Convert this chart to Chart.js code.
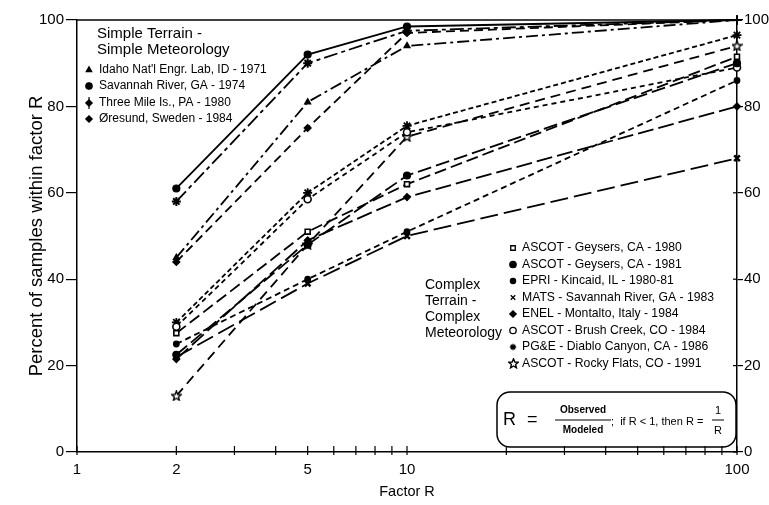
<!DOCTYPE html>
<html>
<head>
<meta charset="utf-8">
<script src="https://cdn.jsdelivr.net/npm/chart.js@4/dist/chart.umd.min.js"></script>
<style>
html,body{margin:0;padding:0;background:#fff;}
#wrap{width:769px;height:505px;}
</style>
</head>
<body>
<div id="wrap"><canvas id="c" width="769" height="505"></canvas></div>
<script>
// ---- data ----
const factorR = [2, 5, 10, 100];
const xTickValues = [1,2,3,4,5,6,7,8,9,10,20,30,40,50,60,70,80,90,100];
const xTickLabels = [1, 2, 5, 10, 100];
const yTickValues = [0, 20, 40, 60, 80, 100];

const simpleNames = ["Idaho Nat'l Engr. Lab, ID - 1971","Savannah River, GA - 1974","Three Mile Is., PA - 1980","Øresund, Sweden - 1984"];
const idaho     = [45, 81, 94, 100];
const savannah  = [61, 92, 98.5, 100];
const threeMile = [44, 75, 97, 100];
const oresund   = [58, 90, 97.5, 100];

const complexNames = ["ASCOT - Geysers, CA - 1980","ASCOT - Geysers, CA - 1981","EPRI - Kincaid, IL - 1980-81","MATS - Savannah River, GA - 1983","ENEL - Montalto, Italy - 1984","ASCOT - Brush Creek, CO - 1984","PG&E - Diablo Canyon, CA - 1986","ASCOT - Rocky Flats, CO - 1991"];
const geysers80   = [27.5, 51, 62, 91.5];
const geysers81   = [22.5, 48, 64, 90];
const epri        = [25, 40, 51, 86];
const mats        = [22, 39, 50, 68];
const enel        = [21.5, 49, 59, 80];
const brushCreek  = [29, 58.5, 74, 89];
const pge         = [30, 60, 75.5, 96.5];
const rockyFlats  = [13, 48, 73, 94];

// ---- marker: outline star ----
function makeStar(){
  const c = document.createElement('canvas'); c.width = 11; c.height = 11;
  const g = c.getContext('2d');
  g.beginPath();
  for(let i=0;i<10;i++){
    const r = i%2===0 ? 5 : 2.2;
    const a = -Math.PI/2 + i*Math.PI/5;
    const px = 5.5 + r*Math.cos(a), py = 5.8 + r*Math.sin(a);
    if(i===0) g.moveTo(px,py); else g.lineTo(px,py);
  }
  g.closePath(); g.fillStyle='#fff'; g.fill(); g.lineWidth=1.4; g.strokeStyle='#000'; g.stroke();
  return c;
}
const starImg = makeStar();

function pts(vals){ return factorR.map((x,i)=>({x:x, y:vals[i]})); }
function ds(label, vals, style, dash, opts){
  return Object.assign({
    label: label, data: pts(vals), borderColor:'#000', backgroundColor:'#000',
    borderWidth: 1.8, borderDash: dash, pointStyle: style, pointRadius: 3.5,
    pointBorderColor:'#000', pointBackgroundColor:'#000', pointBorderWidth:1.2,
    tension: 0, yAxisID:'y', clip: 12
  }, opts||{});
}
function withCross(s){ return [s, s, s, 'cross']; }

const styleSimple = ['triangle','circle','rectRot','rectRot'];
const styleComplex = ['rect','circle','circle','crossRot','rectRot','circle','star',starImg];

const datasets = [
  ds(simpleNames[0], idaho, withCross('triangle'), [12,4,3,4], {pointBorderWidth:[1.2,1.2,1.2,1.8], pointRadius:[3.5,3.5,3.5,4.5]}),
  ds(simpleNames[1], savannah, withCross('circle'), [], {pointBorderWidth:[1.2,1.2,1.2,1.8], pointRadius:[3.5,3.5,3.5,4.5]}),
  ds(simpleNames[2], threeMile, withCross('rectRot'), [9,5], {pointBorderWidth:[1.2,1.2,1.2,1.8], pointRadius:[3.5,3.5,3.5,4.5]}),
  ds(simpleNames[3], oresund, withCross('star'), [14,4,4,4], {pointRadius:4.5, pointBorderWidth:2}),
  ds(complexNames[0], geysers80, 'rect', [12,5], {pointBackgroundColor:'#fff', pointBorderWidth:1.6}),
  ds(complexNames[1], geysers81, 'circle', [14,5]),
  ds(complexNames[2], epri, 'circle', [6,4], {pointRadius:2.8}),
  ds(complexNames[3], mats, 'crossRot', [18,6], {pointBorderWidth:2.5, pointRadius:4}),
  ds(complexNames[4], enel, 'rectRot', [16,5]),
  ds(complexNames[5], brushCreek, 'circle', [5,4], {pointBackgroundColor:'#fff', pointBorderWidth:1.6}),
  ds(complexNames[6], pge, 'star', [5,3], {pointRadius:4.5, pointBorderWidth:1.8}),
  ds(complexNames[7], rockyFlats, starImg, [10,6], {pointRadius:5})
];

const FONT = '"Liberation Sans", Arial, sans-serif';

const annot = {
  id: 'annot',
  afterDraw(chart){
    const ctx = chart.ctx, ca = chart.chartArea, xs = chart.scales.x, ys = chart.scales.y2;
    ctx.save();
    // frame top
    ctx.strokeStyle='#000'; ctx.lineWidth=1.5;
    ctx.beginPath(); ctx.moveTo(ca.left, ca.top); ctx.lineTo(ca.right, ca.top); ctx.stroke();
    // inward x ticks
    ctx.lineWidth=1.2;
    xTickValues.forEach(v=>{
      const px = xs.getPixelForValue(v);
      ctx.beginPath(); ctx.moveTo(px, ca.bottom+3); ctx.lineTo(px, ca.bottom-6); ctx.stroke();
    });
    // inward part of right ticks
    yTickValues.forEach(v=>{
      const py = ys.getPixelForValue(v);
      ctx.beginPath(); ctx.moveTo(ca.right-4, py); ctx.lineTo(ca.right, py); ctx.stroke();
    });
    // simple legend
    ctx.fillStyle='#000'; ctx.textBaseline='middle'; ctx.textAlign='left';
    ctx.font = '15px ' + FONT;
    ctx.fillText('Simple Terrain -', 97, 34);
    ctx.fillText('Simple Meteorology', 97, 50);
    ctx.font = '12px ' + FONT;
    const sy = [70, 86, 103, 119];
    simpleNames.forEach((n,i)=>{
      Chart.helpers.drawPoint(ctx, {pointStyle: styleSimple[i], radius: 3.2, borderWidth:1}, 89, sy[i]);
      ctx.fillStyle='#000'; ctx.fill();
      if (i===2){ ctx.beginPath(); ctx.moveTo(89, sy[i]-6); ctx.lineTo(89, sy[i]+6); ctx.lineWidth=1.2; ctx.stroke(); }
      ctx.fillText(n, 99, sy[i]);
    });
    // complex legend
    ctx.font = '14px ' + FONT;
    ['Complex','Terrain -','Complex','Meteorology'].forEach((t,i)=>ctx.fillText(t, 425, 285 + i*16));
    ctx.font = '12.2px ' + FONT;
    complexNames.forEach((n,i)=>{
      const y = 248 + i*16.5;
      const d = datasets[4+i];
      ctx.strokeStyle='#000'; ctx.fillStyle = d.pointBackgroundColor || '#000';
      ctx.lineWidth = 1.3;
      const st = styleComplex[i];
      if (st === starImg) { ctx.drawImage(starImg, 508, y-5.5); }
      else {
        Chart.helpers.drawPoint(ctx, {pointStyle: st, radius: i===2?2.6:3.2, borderWidth:1.3}, 513, y);
      }
      ctx.fillStyle='#000';
      ctx.fillText(n, 522, y);
    });
    // formula box
    ctx.strokeStyle='#000'; ctx.lineWidth=1.5;
    ctx.beginPath();
    if (ctx.roundRect) ctx.roundRect(497, 392, 239, 55, 13); else ctx.rect(497,392,239,55);
    ctx.stroke();
    ctx.fillStyle='#000';
    ctx.font = '18px ' + FONT; ctx.textAlign='left';
    ctx.fillText('R', 503, 420);
    ctx.fillText('=', 527, 420);
    ctx.font = 'bold 10px ' + FONT; ctx.textAlign='center';
    ctx.fillText('Observed', 583, 410); ctx.fillText('Modeled', 583, 430);
    ctx.lineWidth=1; ctx.beginPath(); ctx.moveTo(555, 420); ctx.lineTo(611, 420); ctx.stroke();
    ctx.textAlign='left'; ctx.font='11px ' + FONT;
    ctx.fillText(';  if R < 1, then R =', 611, 422);
    ctx.textAlign='center'; ctx.font='11px ' + FONT;
    ctx.fillText('1', 718, 411); ctx.fillText('R', 718, 431);
    ctx.beginPath(); ctx.moveTo(712, 420); ctx.lineTo(724, 420); ctx.stroke();
    ctx.restore();
  }
};

new Chart(document.getElementById('c'), {
  type: 'line',
  data: { datasets: datasets },
  plugins: [annot],
  options: {
    responsive: false,
    animation: false,
    layout: { padding: { top: 20, left: 0, right: 0, bottom: 0 } },
    plugins: { legend: { display: false }, tooltip: { enabled: false } },
    scales: {
      x: {
        type: 'logarithmic', min: 1, max: 100,
        afterBuildTicks: s => { s.ticks = xTickValues.map(v=>({value:v})); },
        afterFit: s => { s.height = 53; },
        grid: { display: false, drawOnChartArea:false },
        border: { display: true, color:'#000', width: 1.5 },
        ticks: { autoSkip:false, maxRotation:0, color:'#000', padding: 1,
          font: { family: FONT, size: 15 },
          callback: v => xTickLabels.includes(v) ? String(v) : '' },
        title: { display: true, text: 'Factor R', color:'#000', font: { family: FONT, size: 14.5 }, padding: { top: 14 } }
      },
      y: {
        position: 'left', min: 0, max: 100,
        afterBuildTicks: s => { s.ticks = yTickValues.map(v=>({value:v})); },
        afterFit: s => { s.width = 77; },
        grid: { drawOnChartArea:false, tickLength: 11, color:'#000', lineWidth:1.2 },
        border: { color:'#000', width: 1.5 },
        ticks: { color:'#000', padding: 2, font: { family: FONT, size: 15 } },
        title: { display: true, text: 'Percent of samples within factor R', color:'#000', font: { family: FONT, size: 18.5 }, padding: { top: 26, bottom: 0 } }
      },
      y2: {
        position: 'right', min: 0, max: 100,
        afterBuildTicks: s => { s.ticks = yTickValues.map(v=>({value:v})); },
        afterFit: s => { s.width = 32; },
        grid: { drawOnChartArea:false, tickLength: 6, color:'#000', lineWidth:1.2 },
        border: { color:'#000', width: 1.5 },
        ticks: { color:'#000', padding: 1, font: { family: FONT, size: 15 } }
      }
    }
  }
});
</script>
</body>
</html>
